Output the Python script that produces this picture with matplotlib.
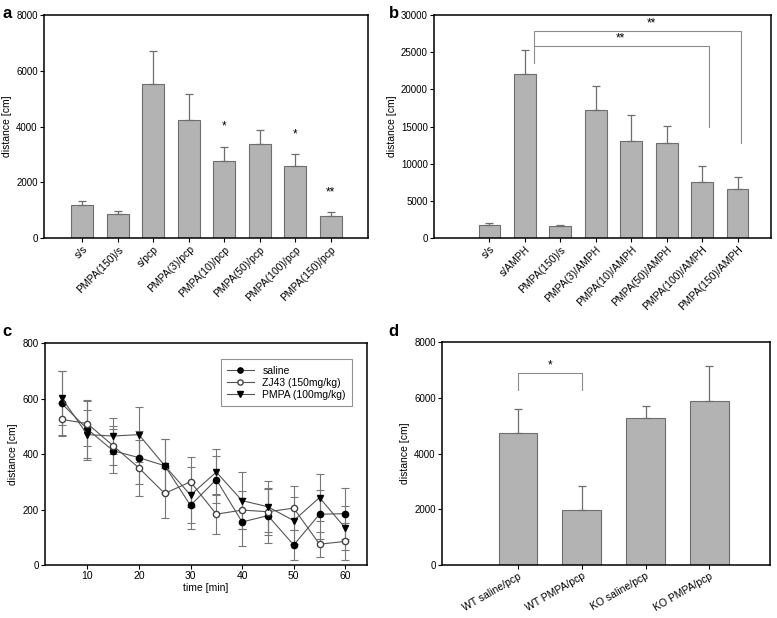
import numpy as np
import matplotlib
matplotlib.use("Agg")
import matplotlib.pyplot as plt
from matplotlib.lines import Line2D

plt.rcParams['font.family'] = ['Liberation Sans', 'DejaVu Sans']
plt.rcParams['font.size'] = 7

# ---- data ----
# panel a
a_labels = ['s/s', 'PMPA(150)/s', 's/pcp', 'PMPA(3)/pcp', 'PMPA(10)/pcp',
            'PMPA(50)/pcp', 'PMPA(100)/pcp', 'PMPA(150)/pcp']
a_vals = [1170, 860, 5520, 4230, 2770, 3380, 2580, 790]
a_err = [140, 100, 1190, 950, 510, 480, 440, 140]
a_marks = ['', '', '', '', '*', '', '*', '**']
a_mark_y = [0, 0, 0, 0, 4000, 0, 3720, 1640]

# panel b
b_labels = ['s/s', 's/AMPH', 'PMPA(150)/s', 'PMPA(3)/AMPH', 'PMPA(10)/AMPH',
            'PMPA(50)/AMPH', 'PMPA(100)/AMPH', 'PMPA(150)/AMPH']
b_vals = [1750, 22100, 1550, 17200, 13100, 12800, 7550, 6650]
b_err = [250, 3200, 250, 3200, 3400, 2250, 2200, 1600]

# panel c
c_time = [5, 10, 15, 20, 25, 30, 35, 40, 45, 50, 55, 60]
saline = [583, 490, 412, 387, 358, 215, 308, 155, 178, 72, 183, 185]
saline_err = [115, 105, 80, 95, 95, 85, 85, 85, 97, 55, 88, 93]
zj43 = [525, 510, 430, 350, 258, 300, 183, 198, 192, 205, 75, 85]
zj43_err = [60, 80, 70, 100, 90, 90, 73, 70, 85, 78, 45, 67]
pmpa = [603, 470, 465, 470, 358, 252, 335, 232, 210, 160, 243, 133]
pmpa_err = [97, 90, 65, 100, 97, 100, 82, 103, 92, 85, 85, 80]

# panel d
d_labels = ['WT saline/pcp', 'WT PMPA/pcp', 'KO saline/pcp', 'KO PMPA/pcp']
d_vals = [4750, 1990, 5280, 5890]
d_err = [860, 850, 430, 1240]

bar_col = '#b3b3b3'
edge_col = '#6e6e6e'
err_col = '#6e6e6e'
br_col = '#8c8c8c'

fig = plt.figure(figsize=(7.77, 6.18), dpi=100)


def style(ax):
    for s in ax.spines.values():
        s.set_linewidth(1.1)
    ax.tick_params(direction='out', length=3, width=0.8, labelsize=7, pad=1.5)
    ax.tick_params(axis='x', labelsize=7.5)
    ax.set_ylabel('distance [cm]', fontsize=7.5, labelpad=3)


def bars(ax, vals, err):
    x = np.arange(len(vals))
    ax.bar(x, vals, width=0.61, color=bar_col, edgecolor=edge_col, linewidth=0.8, zorder=2)
    ax.errorbar(x, vals, yerr=[np.zeros(len(err)), err], fmt='none', ecolor=err_col,
                elinewidth=0.9, capsize=3, capthick=0.9, zorder=3)
    return x


# ---- a ----
ax = fig.add_axes([0.0566, 0.6149, 0.417, 0.3608])
x = bars(ax, a_vals, a_err)
for xi, m, my in zip(x, a_marks, a_mark_y):
    if m:
        ax.text(xi, my, m, ha='center', va='center', fontsize=8.5)
ax.set_xlim(-1.08, 8.05)
ax.set_ylim(0, 8000)
ax.set_yticks([0, 2000, 4000, 6000, 8000])
ax.set_xticks(x)
ax.set_xticklabels(a_labels, rotation=45, ha='right', rotation_mode='anchor')
style(ax)
fig.text(0.003, 0.99, 'a', fontsize=12, fontweight='bold', va='top')

# ---- b ----
ax = fig.add_axes([0.5586, 0.6149, 0.4337, 0.3608])
x = bars(ax, b_vals, b_err)
ax.set_xlim(-1.56, 7.94)
ax.set_ylim(0, 30000)
ax.set_yticks([0, 5000, 10000, 15000, 20000, 25000, 30000])
ax.set_xticks(x)
ax.set_xticklabels(b_labels, rotation=45, ha='right', rotation_mode='anchor')
ax.plot([1.25, 1.25, 7.1, 7.1], [23600, 27900, 27900, 12800], color=br_col, lw=0.8)
ax.plot([1.25, 6.2, 6.2], [25800, 25800, 14900], color=br_col, lw=0.8)
ax.text(4.58, 28900, '**', ha='center', va='center', fontsize=8.5)
ax.text(3.69, 26800, '**', ha='center', va='center', fontsize=8.5)
style(ax)
fig.text(0.5, 0.99, 'b', fontsize=12, fontweight='bold', va='top')

# ---- c ----
ax = fig.add_axes([0.0579, 0.0858, 0.4144, 0.359])
line_col = '#555555'
series = [(saline, saline_err, 'o', 'black', 'black', 'saline'),
          (zj43, zj43_err, 'o', 'white', '#444444', 'ZJ43 (150mg/kg)'),
          (pmpa, pmpa_err, 'v', 'black', 'black', 'PMPA (100mg/kg)')]
handles = []
for vals, err, mk, fc, ec, lab in series:
    ax.errorbar(c_time, vals, yerr=err, color=line_col, ecolor='#777777',
                marker=mk, mfc=fc, mec=ec, ms=4.5, lw=0.8, elinewidth=0.8,
                capsize=3, capthick=0.8)
    handles.append(Line2D([], [], color=line_col, lw=0.8, marker=mk, mfc=fc,
                          mec=ec, ms=3.8, label=lab))
ax.set_xlim(1.8, 64.2)
ax.set_ylim(0, 800)
ax.set_xticks([10, 20, 30, 40, 50, 60])
ax.set_yticks([0, 200, 400, 600, 800])
ax.set_xlabel('time [min]', fontsize=7.5, labelpad=1.5)
leg = ax.legend(handles=handles, loc='upper right', fontsize=7.5, frameon=True,
                fancybox=False, edgecolor='#777777', handlelength=2.6, borderpad=0.6,
                labelspacing=0.2, bbox_to_anchor=(0.97, 0.95))
leg.get_frame().set_linewidth(0.8)
style(ax)
fig.text(0.003, 0.475, 'c', fontsize=12, fontweight='bold', va='top')

# ---- d ----
ax = fig.add_axes([0.5689, 0.0858, 0.4221, 0.3605])
x = bars(ax, d_vals, d_err)
ax.set_xlim(-1.19, 3.95)
ax.set_ylim(0, 8000)
ax.set_yticks([0, 2000, 4000, 6000, 8000])
ax.set_xticks(x)
ax.set_xticklabels(d_labels, rotation=30, ha='right', rotation_mode='anchor')
ax.plot([0, 0, 1, 1], [6290, 6890, 6890, 6290], color=br_col, lw=0.8)
ax.text(0.5, 7150, '*', ha='center', va='center', fontsize=8.5)
style(ax)
fig.text(0.5, 0.475, 'd', fontsize=12, fontweight='bold', va='top')

fig.savefig('out.png', dpi=100)
